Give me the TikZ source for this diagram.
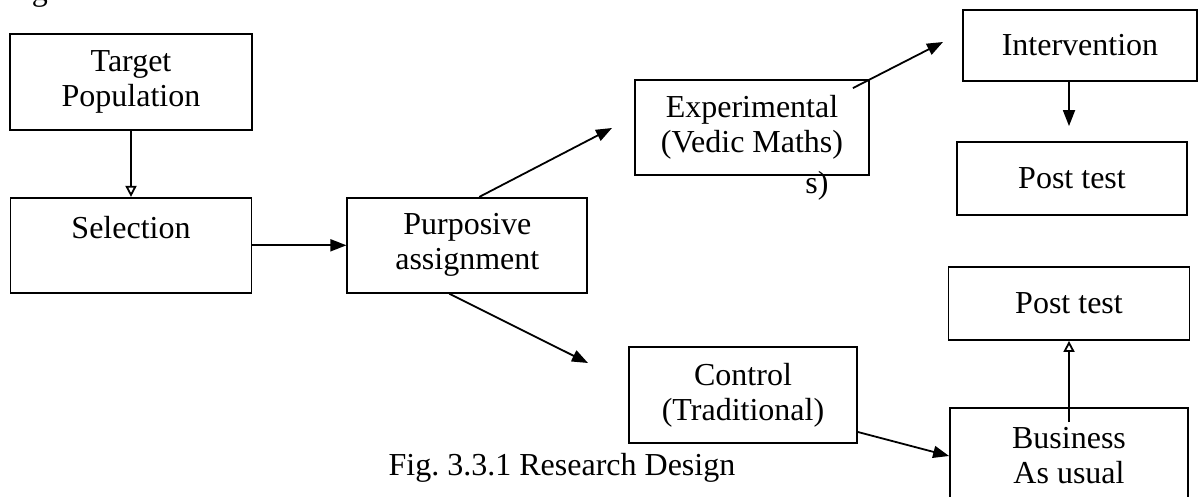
\documentclass[tikz,border=0pt]{standalone}
\usepackage{fontspec}
\setmainfont{Liberation Serif}
\usetikzlibrary{positioning}
\usetikzlibrary{arrows.meta}

\begin{document}
\begin{tikzpicture}[x=0.5pt, y=-0.5pt, line width=0.9pt,
		font=\fontsize{16}{17.5}\selectfont,
		blk/.style={draw, rectangle, align=center, inner sep=0pt},
		fwd/.style={-{Triangle[length=8pt,width=6pt]}},
		opn/.style={-{Triangle[open,length=5.5pt,width=5.5pt]}}]
			\useasboundingbox (0,0) rectangle (1203,497);

			\node[anchor=base] (frag) at (40,1) {g};

			\node[blk, minimum width=121pt, minimum height=48pt] (TP) at (131,82) {Target\\Population};
			\node[blk, minimum width=120.5pt, minimum height=47.5pt, below=33pt of TP] (S) {Selection\\\mbox{}};
			\node[blk, minimum width=120pt, minimum height=47.5pt, right=47pt of S] (PA) {Purposive\\assignment};
			\node[blk, minimum width=117pt, minimum height=47.5pt] (E) at (752,127.5) {Experimental\\(Vedic Maths)};
			\node[blk, minimum width=117pt, minimum height=35.5pt] (I) at (1080,45.5) {Intervention};
			\node[blk, minimum width=115pt, minimum height=36.5pt] (P1) at (1072,178.5) {Post test};
			\node[blk, minimum width=120.5pt, minimum height=36.5pt] (P2) at (1069,303.5) {Post test};
			\node[blk, minimum width=114pt, minimum height=48pt] (C) at (743,395) {Control\\(Traditional)};
			\node[blk, minimum width=119pt, minimum height=48pt] (B) at (1069,456) {Business\\As usual};

			\node (stray) at (817,186) {s)};
			\node (cap) at (562,468) {Fig.\ 3.3.1 Research Design};

			% free arrow ends
			\coordinate (e1) at (612,128);
			\coordinate (i1) at (943,42);
			\coordinate (c1) at (588,363);

			\draw[opn] (TP) -- (S);
			\draw[fwd] (S) -- (PA);
			\draw[fwd] ([xshift=6pt]PA.north) -- (e1);
			\draw[fwd] ([xshift=-8.5pt,yshift=-4.5pt]E.north east) -- (i1);
			\draw[fwd, shorten >=7.5pt] ([xshift=-5.5pt]I.south) -- ([xshift=-1.5pt]P1.north);
			\draw[fwd] ([xshift=-9pt]PA.south) -- (c1);
			\draw[fwd] ([yshift=-18.5pt]C.east) -- (B.west);
			\draw[opn] ([yshift=-7.5pt]B.north) -- (P2.south);
		\end{tikzpicture}
\end{document}
